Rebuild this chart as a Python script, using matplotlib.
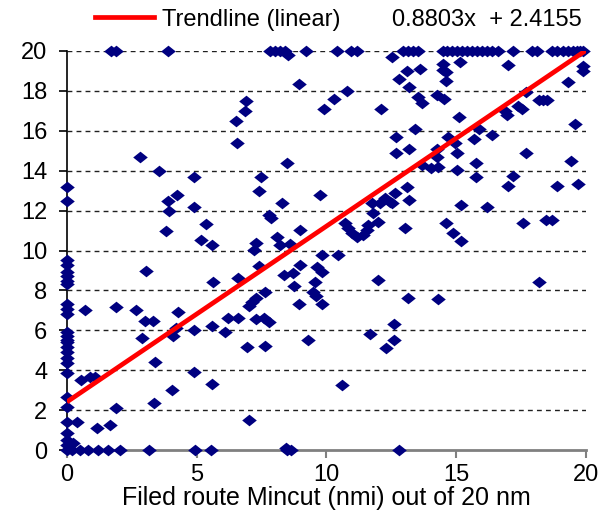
import numpy as np
import matplotlib.pyplot as plt
from matplotlib.lines import Line2D

plt.rcParams['font.family'] = ['Liberation Sans', 'DejaVu Sans']

# points sitting on the y axis (x = 0)
y_axis_pts = [13.2, 12.5, 9.55, 9.3, 8.95, 8.7, 8.45, 8.3, 7.3, 7.05, 6.8, 5.9, 5.7,
              5.5, 5.4, 5.15, 4.9, 4.6, 4.35, 3.85, 2.65, 2.15, 1.4, 0.85, 0.5, 0.25, 0.0]
# points sitting on the x axis (y = 0)
x_axis_pts = [0.2, 0.5, 0.8, 1.2, 1.6, 2.05, 3.15, 4.95, 5.55, 8.5, 8.65, 12.8]
# points capped at 20
top_pts = [1.7, 1.9, 3.9, 7.82, 8.02, 8.21, 8.40, 9.21, 10.40, 10.94, 11.18, 12.95, 13.14,
           13.33, 13.53, 14.49, 14.64, 14.84, 15.03, 15.22, 15.41, 15.61, 15.80, 15.99,
           16.18, 16.38, 16.61, 17.19, 17.92, 18.11, 18.69, 18.88, 19.11, 19.31, 19.50,
           19.65, 19.77, 19.88]

other_x = [0.25, 0.4, 1.15, 1.65, 0.7, 0.55, 0.9, 1.1, 1.9, 1.9, 2.65, 3.05, 2.9, 3.0, 3.3,
           3.4, 3.35, 4.05, 4.1, 4.2, 4.3, 4.9, 4.9, 5.6, 5.65, 5.6, 6.1, 6.2, 6.6, 6.6,
           2.8, 3.55, 4.9, 3.9, 4.25, 3.95, 4.9, 3.8, 5.35, 5.15, 5.6, 6.5, 6.55, 6.9, 6.85,
           7.4, 7.5, 8.3, 8.5, 7.8, 7.85, 9.0, 8.1, 7.3, 8.6, 8.2, 7.2, 9.75, 8.52, 12.52,
           13.6, 13.1, 12.8, 13.2, 13.55, 13.7, 8.95, 10.8, 10.3, 9.9, 12.1, 13.4, 12.7, 13.2,
           12.7, 13.7, 14.05, 14.3,
           15.15, 14.5, 14.5, 14.6, 17.0, 14.6, 19.9, 19.9, 19.3, 14.25, 14.55, 18.2, 18.35,
           18.5, 17.7, 17.4, 17.55, 16.9, 16.95, 15.1, 19.6, 15.9, 15.7, 16.4, 14.7, 14.95,
           15.05, 14.25, 14.25, 15.05, 15.75, 15.75, 17.7, 17.2, 17.0, 18.9, 19.45, 19.7,
           15.2, 16.2, 14.6, 14.9, 15.2, 17.6, 18.45, 18.7,
           10.7, 10.85, 11.0, 11.2, 11.4, 11.6, 11.55, 12.0, 11.8, 11.75, 12.05, 12.25, 12.45,
           12.65, 12.55, 13.1, 13.2, 13.05,
           7.4, 7.65, 7.3, 7.15, 7.0, 7.3, 7.6, 7.8, 6.95, 7.65, 7.0, 8.35, 8.7, 9.0, 8.75,
           8.95, 9.85, 10.45, 9.65, 9.85, 9.55, 9.5, 9.6, 9.85, 9.3, 10.6, 12.0, 13.15, 12.6,
           11.7, 12.6, 12.3, 18.2, 14.3, 8.45]
other_y = [0.35, 1.4, 1.1, 1.25, 7.0, 3.5, 3.65, 3.65, 7.15, 2.1, 7.0, 9.0, 5.6, 6.45, 6.45,
           4.4, 2.35, 3.0, 5.7, 6.1, 6.9, 6.0, 3.9, 3.3, 8.4, 6.2, 5.9, 6.6, 8.6, 6.6,
           14.7, 14.0, 13.7, 12.5, 12.8, 12.0, 12.2, 11.0, 11.35, 10.55, 10.3, 16.5, 15.4,
           17.5, 17.0, 13.0, 13.7, 12.4, 14.4, 11.8, 11.65, 11.05, 10.7, 10.4, 10.35, 10.3,
           10.05, 12.8, 19.8, 19.7,
           19.1, 19.0, 18.6, 18.2, 17.7, 17.4, 18.35, 18.0, 17.6, 17.1, 17.1, 16.1, 15.7, 15.1,
           14.9, 14.3, 14.15, 14.2,
           19.45, 19.35, 19.05, 18.95, 19.3, 18.5, 19.25, 19.0, 18.45, 17.8, 17.6, 17.55, 17.55,
           17.55, 17.95, 17.25, 17.1, 17.0, 16.8, 16.7, 16.35, 16.1, 15.6, 15.8, 15.7, 15.4,
           14.9, 15.1, 14.7, 14.05, 14.4, 13.7, 14.9, 13.75, 13.25, 13.25, 14.5, 13.35,
           12.3, 12.2, 11.4, 10.9, 10.5, 11.4, 11.55, 11.55,
           11.4, 11.15, 10.9, 10.7, 10.8, 11.3, 11.05, 11.45, 11.9, 12.4, 12.4, 12.65, 12.45,
           12.9, 12.4, 13.2, 12.55, 11.15,
           9.25, 7.9, 7.6, 7.4, 7.2, 6.55, 6.6, 6.4, 5.15, 5.2, 1.5, 8.75, 8.85, 9.3, 8.2,
           7.3, 9.8, 9.8, 9.2, 8.9, 8.4, 7.9, 7.7, 7.3, 5.5, 3.25, 8.5, 7.6, 6.3,
           5.8, 5.5, 5.1, 8.4, 7.55, 0.1]

slope = 0.8803
intercept = 2.4155

x = np.concatenate([np.zeros(len(y_axis_pts)), x_axis_pts, top_pts, other_x])
y = np.concatenate([y_axis_pts, np.zeros(len(x_axis_pts)), np.full(len(top_pts), 20.0), other_y])

fig = plt.figure(figsize=(6.14, 5.15), dpi=100)
ax = fig.add_axes([0.109, 0.126, 0.845, 0.775])

# wide diamond like the spreadsheet marker
diamond = [(-1, 0), (0, 0.8), (1, 0), (0, -0.8), (-1, 0)]
ax.plot(x, y, linestyle='none', marker=diamond, markersize=10.5, color='#000080',
        markeredgewidth=0, clip_on=False, zorder=3)

xt = np.array([0, 20])
ax.plot(xt, slope * xt + intercept, color='#ff0000', linewidth=3.4, zorder=4,
        solid_capstyle='butt')

ax.set_xlim(0, 20)
ax.set_ylim(0, 20)
ax.set_xticks([0, 5, 10, 15, 20])
ax.set_yticks(np.arange(0, 21, 2))
for yy in np.arange(2, 21, 2):
    ax.axhline(yy, color='#202020', linewidth=1.0, linestyle=(0, (3.5, 3)), zorder=1)

ax.spines['top'].set_visible(False)
ax.spines['right'].set_visible(False)
ax.spines['left'].set_color('black')
ax.spines['left'].set_linewidth(1.2)
ax.spines['bottom'].set_color('#808080')
ax.spines['bottom'].set_linewidth(2)
ax.tick_params(axis='y', direction='out', length=6, width=1.2, color='black',
               labelsize=17, pad=8)
ax.tick_params(axis='x', direction='out', length=6, width=1.5, color='#808080',
               labelsize=17, pad=4)

ax.set_xlabel('Filed route Mincut (nmi) out of 20 nm', fontsize=18, labelpad=0)

handle = Line2D([], [], color='#ff0000', linewidth=3.4)
fig.legend([handle], ['Trendline (linear)'], loc='center left',
           bbox_to_anchor=(0.14, 0.962), frameon=False, fontsize=17,
           handlelength=2.5, handletextpad=0.3, borderaxespad=0)
fig.text(0.947, 0.962, '0.8803x  + 2.4155', fontsize=17, ha='right', va='center')

fig.savefig('out.png', dpi=100)
